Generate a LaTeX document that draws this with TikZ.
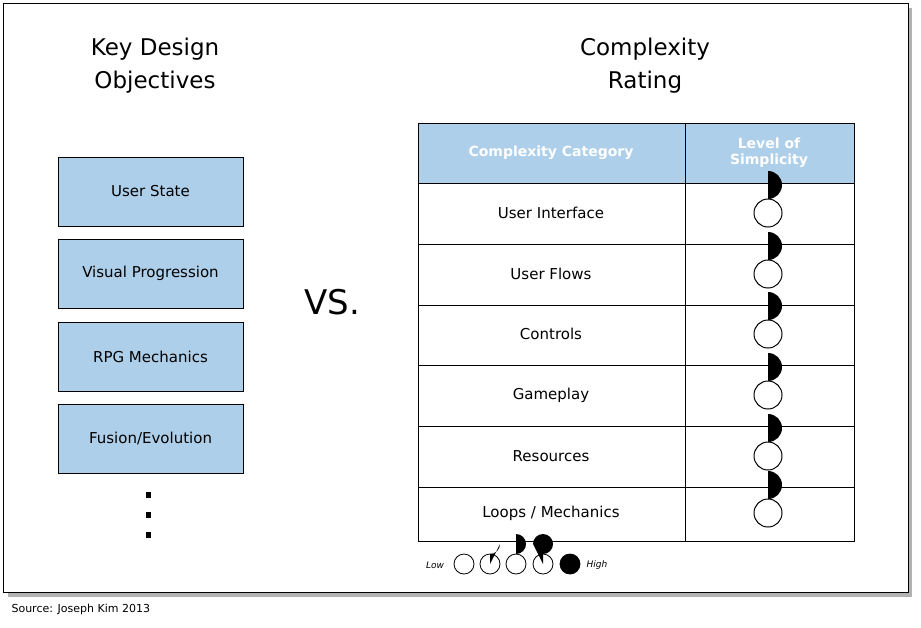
\documentclass[tikz,border=0pt]{standalone}
\usepackage{fontspec}
\setmainfont{DejaVu Sans}
\definecolor{lblue}{RGB}{174,207,233}
\begin{document}
\begin{tikzpicture}[x=1pt,y=-1pt,
  obj/.style={draw=black,fill=lblue,minimum width=185pt,minimum height=69pt,font=\fontsize{15}{18}\selectfont},
  cellt/.style={font=\fontsize{15}{18}\selectfont},
  hdr/.style={text=white,font=\bfseries\fontsize{14}{16}\selectfont,align=center},
  ttl/.style={font=\fontsize{23}{33}\selectfont,align=center}]
\useasboundingbox (0,0) rectangle (921,627);
\fill[gray!60] (8,8) rectangle (912,597);
\draw[fill=white] (3,3) rectangle (908,592);
\node[ttl] (t1) at (155,66) {Key Design\\Objectives};
\node[ttl] (t2) at (645,66) {Complexity\\Rating};
\node[obj] (b1) at (150.5,191.5) {User State};
\node[obj] (b2) at (150.5,273.5) {Visual Progression};
\node[obj] (b3) at (150.5,356.5) {RPG Mechanics};
\node[obj] (b4) at (150.5,438.5) {Fusion/Evolution};
\foreach \y in {495,515,535} \fill (146,\y-3) rectangle (151,\y+3);
\node[font=\fontsize{34}{40}\selectfont] (vs) at (332,302) {VS.};
\fill[lblue] (418,123) rectangle (854,183);
\draw (418,123) rectangle (854,541);
\draw (685,123) -- (685,541);
\foreach \y in {183,244,305,365,426,487} \draw (418,\y) -- (854,\y);
\node[hdr] (h1) at (551,153) {Complexity Category};
\node[hdr] (h2) at (769,153) {Level of\\Simplicity};
\foreach \t/\y [count=\i] in {{User Interface}/213,{User Flows}/274,{Controls}/334,{Gameplay}/395,{Resources}/456,{Loops / Mechanics}/513}{
  \node[cellt] (r\i) at (551,\y) {\t};
  \coordinate (c\i) at (768,\y);
  \fill (c\i) ++(0,-14) arc (90:-90:14) -- cycle;
  \draw[line width=1pt] (c\i) circle (14);
}
\node[font=\itshape\fontsize{9}{10}\selectfont] (low) at (435,565) {Low};
\node[font=\itshape\fontsize{9}{10}\selectfont] (high) at (597,565) {High};
\coordinate (l1) at (464,564);\coordinate (l2) at (490,564);\coordinate (l3) at (516,564);\coordinate (l4) at (543,564);\coordinate (l5) at (570,564);
\fill (l2) -- ++(0,-10) arc (90:0:10) -- cycle;
\fill (l3) ++(0,-10) arc (90:-90:10) -- cycle;
\fill (l4) -- ++(0,-10) arc (90:-180:10) -- cycle;
\fill (l5) circle (10);
\foreach \i in {1,...,5} \draw[line width=0.8pt] (l\i) circle (10);
\node[anchor=west,font=\fontsize{11}{13}\selectfont] (src) at (8,609) {Source: Joseph Kim 2013};
\end{tikzpicture}
\end{document}
